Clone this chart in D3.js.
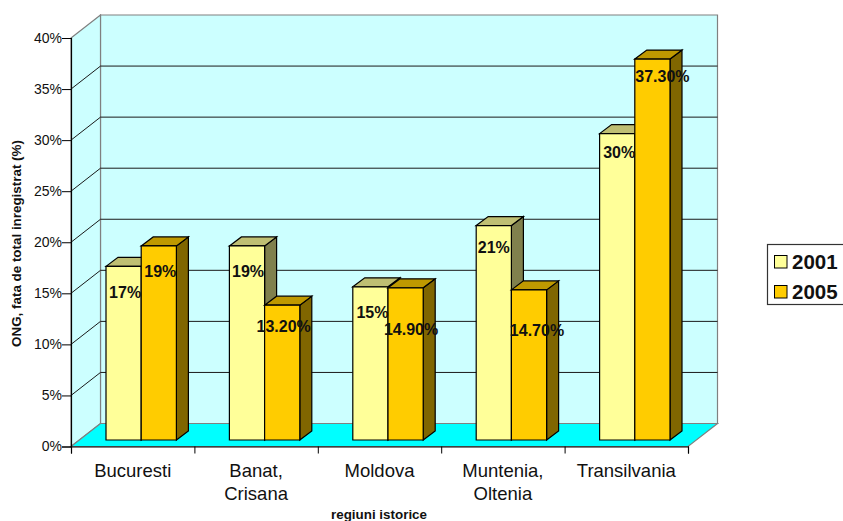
<!DOCTYPE html>
<html>
<head>
<meta charset="utf-8">
<script src="https://cdn.jsdelivr.net/npm/d3@7"></script>
<style>
    html, body { margin: 0; padding: 0; background: #fff; overflow: hidden; }
    text { font-family: "Liberation Sans", Arial, sans-serif; fill: #111; }
</style>
</head>
<body>
<script>
var categories = [["Bucuresti"], ["Banat,", "Crisana"], ["Moldova"], ["Muntenia,", "Oltenia"], ["Transilvania"]];
var seriesNames = ["2001", "2005"];
var values2001 = [17, 19, 15, 21, 30];
var values2005 = [19, 13.2, 14.9, 14.7, 37.3];
var labels2001 = ["17%", "19%", "15%", "21%", "30%"];
var labels2005 = ["19%", "13.20%", "14.90%", "14.70%", "37.30%"];
var yTicks = [0, 5, 10, 15, 20, 25, 30, 35, 40];

var chartWidth = 843, chartHeight = 521;
var plotLeft = 71, plotRight = 688, plotBottom = 446.5, plotTop = 38;
var wallDx = 29.5, wallDy = -23;   // depth of the 3d box
var barDepthX = 12, barDepthY = -9;
var barWidth = 35.2, barInset = 35, barLift = 6.5;

var colors = [
    { front: "#FFFF99", top: "#BFBF73", side: "#80804D" },
    { front: "#FFCC00", top: "#BF9900", side: "#806600" }
];

var svg = d3.select("body").append("svg")
    .attr("width", chartWidth)
    .attr("height", chartHeight);

var x = d3.scaleBand().domain(d3.range(categories.length)).range([plotLeft, plotRight]);
var y = d3.scaleLinear().domain([0, 40]).range([plotBottom, plotTop]);

function poly(points, fill, stroke, sw) {
    return svg.append("polygon")
        .attr("points", points.map(function (p) { return p.join(","); }).join(" "))
        .attr("fill", fill)
        .attr("stroke", stroke)
        .attr("stroke-width", sw);
}

// walls and floor
poly([[plotLeft + wallDx, plotTop + wallDy], [plotRight + wallDx, plotTop + wallDy], [plotRight + wallDx, plotBottom + wallDy], [plotLeft + wallDx, plotBottom + wallDy]], "#CCFFFF", "#808080", 1.2);
poly([[plotLeft, plotTop], [plotLeft + wallDx, plotTop + wallDy], [plotLeft + wallDx, plotBottom + wallDy], [plotLeft, plotBottom]], "#CCFFFF", "#808080", 1.2);
poly([[plotLeft, plotBottom], [plotLeft + wallDx, plotBottom + wallDy], [plotRight + wallDx, plotBottom + wallDy], [plotRight, plotBottom]], "#00FFFF", "#808080", 1.2);

// gridlines, left wall diagonal then back wall
yTicks.slice(1, -1).forEach(function (t) {
    svg.append("polyline")
        .attr("points", [[plotLeft, y(t)], [plotLeft + wallDx, y(t) + wallDy], [plotRight + wallDx, y(t) + wallDy]].map(function (p) { return p.join(","); }).join(" "))
        .attr("fill", "none")
        .attr("stroke", "#1a1a1a")
        .attr("stroke-width", 1);
});

// bars
function drawBar(i, s, value) {
    var x0 = x(i) + barInset + s * barWidth,
        x1 = x0 + barWidth,
        base = plotBottom - barLift,
        yTop = y(value) - barLift,
        c = colors[s];
    poly([[x1, yTop], [x1 + barDepthX, yTop + barDepthY], [x1 + barDepthX, base + barDepthY], [x1, base]], c.side, "#000", 1.2);
    poly([[x0, yTop], [x0 + barDepthX, yTop + barDepthY], [x1 + barDepthX, yTop + barDepthY], [x1, yTop]], c.top, "#000", 1.2);
    poly([[x0, yTop], [x1, yTop], [x1, base], [x0, base]], c.front, "#000", 1.2);
}

categories.forEach(function (c, i) {
    drawBar(i, 0, values2001[i]);
    drawBar(i, 1, values2005[i]);
});

// data labels sit at uneven offsets from the bar top in the original
var dx2001 = [1.5, 1, 2, 0, 2],
    dx2005 = [1.5, 1.5, 5.5, 8, 10],
    dy2001 = [26, 26, 26, 22, 19],
    dy2005 = [26, 21, 42, 41, 17];

function drawLabels(vals, labels, s, dxs, dys) {
    svg.append("g").selectAll("text")
        .data(vals)
        .enter()
        .append("text")
        .attr("x", function (d, i) { return x(i) + barInset + (s + 0.5) * barWidth + dxs[i]; })
        .attr("y", function (d, i) { return y(d) - barLift + dys[i] + 5.5; })
        .attr("text-anchor", "middle")
        .attr("font-size", "16px")
        .attr("font-weight", "bold")
        .text(function (d, i) { return labels[i]; });
}
drawLabels(values2001, labels2001, 0, dx2001, dy2001);
drawLabels(values2005, labels2005, 1, dx2005, dy2005);

// y axis
var yAxis = d3.axisLeft(y)
    .tickValues(yTicks)
    .tickFormat(function (d) { return d + "%"; })
    .tickSize(9)
    .tickPadding(0);

var yg = svg.append("g").attr("transform", "translate(" + plotLeft + ",0)").call(yAxis);
yg.select(".domain").attr("stroke", "#000").attr("stroke-width", 1.2);
yg.selectAll("line").attr("stroke", "#000");
yg.selectAll("text").attr("font-size", "14px").attr("font-family", '"Liberation Sans", Arial, sans-serif').attr("fill", "#222");

// x axis, labels added by hand because they wrap
var xAxis = d3.axisBottom(d3.scaleLinear().domain([0, categories.length]).range([plotLeft, plotRight]))
    .ticks(categories.length)
    .tickFormat("")
    .tickSize(7);

var xg = svg.append("g").attr("transform", "translate(0," + plotBottom + ")").call(xAxis);
xg.select(".domain").attr("stroke", "#000").attr("stroke-width", 1.2);
xg.selectAll("line").attr("stroke", "#000");

categories.forEach(function (lines, i) {
    var t = svg.append("text")
        .attr("y", 477)
        .attr("text-anchor", "middle")
        .attr("font-size", "18.5px");
    lines.forEach(function (line, k) {
        t.append("tspan")
            .attr("x", x(i) + x.bandwidth() / 2)
            .attr("dy", k === 0 ? 0 : 22.5)
            .text(line);
    });
});

// axis titles
svg.append("text")
    .attr("transform", "translate(21,243.5) rotate(-90)")
    .attr("text-anchor", "middle")
    .attr("font-size", "13.4px")
    .attr("font-weight", "bold")
    .text("ONG, fata de total inregistrat (%)");

svg.append("text")
    .attr("x", 379)
    .attr("y", 519)
    .attr("text-anchor", "middle")
    .attr("font-size", "13.4px")
    .attr("font-weight", "bold")
    .text("regiuni istorice");

// legend, runs off the right edge of the page
svg.append("rect")
    .attr("x", 767.5)
    .attr("y", 244.5)
    .attr("width", 90)
    .attr("height", 60)
    .attr("fill", "#fff")
    .attr("stroke", "#333")
    .attr("stroke-width", 1.2);

seriesNames.forEach(function (name, i) {
    var ly = 255.5 + i * 30;
    svg.append("rect")
        .attr("x", 774.5)
        .attr("y", ly)
        .attr("width", 12.5)
        .attr("height", 12.5)
        .attr("fill", colors[i].front)
        .attr("stroke", "#000");
    svg.append("text")
        .attr("x", 792)
        .attr("y", ly + 13.5)
        .attr("font-size", "20.5px")
        .attr("font-weight", "bold")
        .text(name);
});
</script>
</body>
</html>
